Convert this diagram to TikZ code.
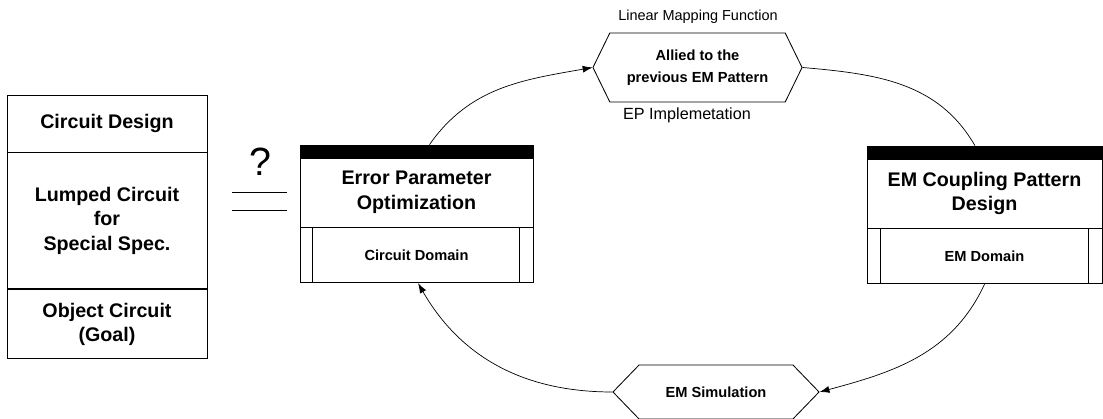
\documentclass[tikz,border=0pt]{standalone}
\usepackage{fontspec}
\setmainfont{Liberation Sans}
\usetikzlibrary{positioning,shapes.symbols,arrows.meta}

\begin{document}
\begin{tikzpicture}
      [x=.025cm,y=.025cm
      ,box/.style={draw,line width=.6pt,minimum width=5cm,align=center,inner sep=0pt}
      ,big/.style={font=\fontsize{14}{17.5}\selectfont\bfseries}
      ,small/.style={font=\fontsize{10.4}{16}\selectfont\bfseries}
      ,bar/.style={draw,fill=black,minimum height=.31cm,inner sep=0pt}
      ,hexa/.style={draw,line width=.6pt,shape=signal,signal to=west and east,align=center,inner sep=0pt}
      ,link/.style={line width=.5pt,-{Latex[length=7pt,width=5pt]}}
      ]
  \useasboundingbox (0,0) rectangle (1103,419);
  % left column
  \node[box,big,minimum height=1.425cm] (cd) at (107,295.5) {Circuit Design};
  \node[box,big,minimum height=3.4cm,below=0pt of cd] (lc) {Lumped Circuit\\for\\Special Spec.};
  \node[box,big,minimum height=1.725cm,below=0pt of lc] (oc) {Object Circuit\\(Goal)};
  % question
  \node[font=\fontsize{28}{30}\selectfont] (qm) at (260,257) {?};
  \draw[line width=.6pt] (232,227) -- (287,227) (232,209) -- (287,209);
  % circuit side
  \node[box,big,minimum width=5.825cm,minimum height=1.725cm] (ep) at (416.5,226.5) {Error Parameter\\Optimization};
  \node[bar,minimum width=5.825cm,above=0pt of ep] (epbar) {};
  \node[box,small,minimum width=5.825cm,minimum height=1.375cm,below=0pt of ep] (epd) {Circuit Domain};
  \draw ([xshift=.325cm]epd.north west) -- ([xshift=.325cm]epd.south west);
  \draw ([xshift=-.35cm]epd.north east) -- ([xshift=-.35cm]epd.south east);
  % em side
  \node[box,big,minimum width=5.875cm,minimum height=1.725cm] (em) at (984.5,225.5) {EM Coupling Pattern\\Design};
  \node[bar,minimum width=5.875cm,above=0pt of em] (embar) {};
  \node[box,small,minimum width=5.875cm,minimum height=1.375cm,below=0pt of em] (emd) {EM Domain};
  \draw ([xshift=.35cm]emd.north west) -- ([xshift=.35cm]emd.south west);
  \draw ([xshift=-.35cm]emd.north east) -- ([xshift=-.35cm]emd.south east);
  % hexagons
  \node[hexa,small,minimum width=5.225cm,minimum height=1.725cm,signal pointer angle=128] (map) at (697.5,351.5) {Allied to the\\previous EM Pattern};
  \node[hexa,small,minimum width=5.15cm,minimum height=1.35cm,signal pointer angle=92] (sim) at (716,27) {EM Simulation};
  \node[font=\fontsize{10.3}{12}\selectfont] (lmf) at (698,402) {Linear Mapping Function};
  \node[font=\fontsize{11.5}{13}\selectfont] (epi) at (687,304) {EP Implemetation};
  % loop
  \draw[link] ([xshift=.325cm]epbar.north) to[out=55,in=190] (map.west);
  \draw[line width=.5pt] (map.east) to[out=-5,in=120] ([xshift=-.24cm]embar.north);
  \draw[link] (emd.south) to[out=-115,in=15] (sim.east);
  \draw[link] (sim.west) to[out=180,in=-60] ([xshift=.04cm]epd.south);
\end{tikzpicture}
\end{document}
